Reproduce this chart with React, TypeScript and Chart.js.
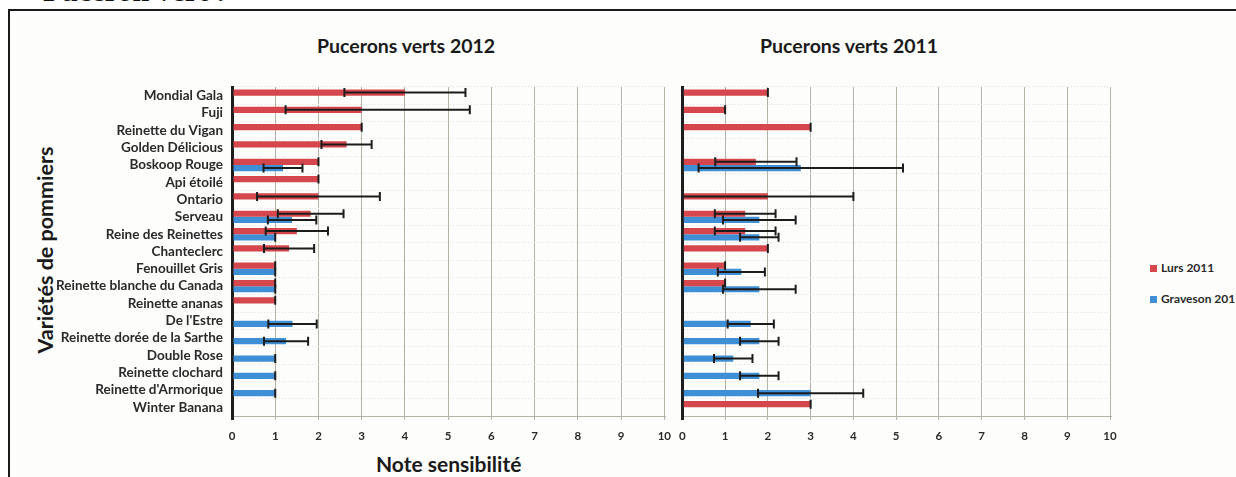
import React, { useEffect, useRef } from 'react';
import { Chart, registerables } from 'chart.js';

Chart.register(...registerables);

const varieties = [
  'Mondial Gala',
  'Fuji',
  'Reinette du Vigan',
  'Golden Délicious',
  'Boskoop Rouge',
  'Api étoilé',
  'Ontario',
  'Serveau',
  'Reine des Reinettes',
  'Chanteclerc',
  'Fenouillet Gris',
  'Reinette blanche du Canada',
  'Reinette ananas',
  "De l'Estre",
  'Reinette dorée de la Sarthe',
  'Double Rose',
  'Reinette clochard',
  "Reinette d'Armorique",
  'Winter Banana',
];

const xTickLabels = ['0', '1', '2', '3', '4', '5', '6', '7', '8', '9', '10'];

const seriesNames = ['Lurs 2011', 'Graveson 2011'];

// Pucerons verts 2012
const lurs2012 = [4, 3, 3, 2.65, 2, 2, 2, 1.82, 1.5, 1.32, 1, 1, 1, null, null, null, null, null, null];
const lurs2012ErrMinus = [1.4, 1.76, 0, 0.58, 0, 0, 1.42, 0.76, 0.72, 0.58, 0, 0, 0, 0, 0, 0, 0, 0, 0];
const lurs2012ErrPlus = [1.4, 2.5, 0, 0.58, 0, 0, 1.42, 0.76, 0.72, 0.58, 0, 0, 0, 0, 0, 0, 0, 0, 0];
const graveson2012 = [null, null, null, null, 1.18, null, null, 1.39, 1.0, null, 1, 1, null, 1.4, 1.25, 1, 1, 1, null];
const graveson2012Err = [0, 0, 0, 0, 0.45, 0, 0, 0.56, 0, 0, 0, 0, 0, 0.56, 0.51, 0, 0, 0, 0];

// Pucerons verts 2011
const lurs2011 = [2, 1, 3, null, 1.72, null, 2, 1.47, 1.47, 2, 1, 1, null, null, null, null, null, null, 3];
const lurs2011Err = [0, 0, 0, 0, 0.95, 0, 2, 0.71, 0.71, 0, 0, 0, 0, 0, 0, 0, 0, 0, 0];
const graveson2011 = [null, null, null, null, 2.77, null, null, 1.8, 1.8, null, 1.38, 1.8, null, 1.6, 1.8, 1.19, 1.8, 3, null];
const graveson2011Err = [0, 0, 0, 0, 2.39, 0, 0, 0.85, 0.45, 0, 0.55, 0.85, 0, 0.54, 0.45, 0.45, 0.45, 1.23, 0];

const RED = '#d6474d';
const BLUE = '#3f8fd6';
const FONT = 'Lato, "Open Sans", sans-serif';

const errorBarPlugin = {
  id: 'errorBars',
  afterDatasetsDraw(chart: any) {
    const ctx = chart.ctx;
    const xScale = chart.scales.x;
    ctx.save();
    ctx.strokeStyle = '#1c1c1c';
    ctx.lineWidth = 2;
    chart.data.datasets.forEach((ds: any, di: number) => {
      const meta = chart.getDatasetMeta(di);
      meta.data.forEach((bar: any, i: number) => {
        const v = ds.data[i];
        if (v == null) return;
        const lo = Math.max(0, v - (ds.errMinus ? ds.errMinus[i] : 0));
        const hi = v + (ds.errPlus ? ds.errPlus[i] : 0);
        const y = bar.y;
        const x1 = xScale.getPixelForValue(lo);
        const x2 = xScale.getPixelForValue(hi);
        const cap = 4.5;
        ctx.beginPath();
        ctx.moveTo(x1, y);
        ctx.lineTo(x2, y);
        ctx.moveTo(x1, y - cap);
        ctx.lineTo(x1, y + cap);
        ctx.moveTo(x2, y - cap);
        ctx.lineTo(x2, y + cap);
        ctx.stroke();
      });
    });
    ctx.restore();
  },
};

function makeConfig(datasets: any[], yWidth: number, showLabels: boolean, padRight: number): any {
  return {
    type: 'bar',
    data: { labels: varieties, datasets },
    plugins: [errorBarPlugin],
    options: {
      indexAxis: 'y',
      animation: false,
      responsive: false,
      layout: { padding: { left: 0, right: padRight, top: 7, bottom: 0 } },
      plugins: { legend: { display: false }, tooltip: { enabled: false }, title: { display: false } },
      datasets: { bar: { categoryPercentage: 0.72, barPercentage: 1 } },
      scales: {
        x: {
          min: 0,
          max: 10,
          afterFit: (s: any) => {
            s.height = 26;
          },
          ticks: {
            stepSize: 1,
            padding: 9,
            color: '#2a2a2a',
            font: { family: FONT, size: 11.5, weight: 'bold' },
            callback: (v: any) => xTickLabels[v] ?? '',
          },
          grid: {
            color: (c: any) => (c.tick && c.tick.value === 0 ? '#1e1e1e' : '#b4b3a6'),
            lineWidth: (c: any) => (c.tick && c.tick.value === 0 ? 3 : 1),
            tickLength: 4,
          },
          border: { display: true, color: '#b4b3a6', width: 1 },
        },
        y: {
          afterFit: (s: any) => {
            s.width = yWidth;
            s.paddingTop = 0;
            s.paddingBottom = 0;
          },
          ticks: {
            display: showLabels,
            padding: 9,
            color: '#2a2a2a',
            font: { family: FONT, size: 13.5, weight: 'bold' },
            autoSkip: false,
          },
          grid: { color: '#e2e2da', lineWidth: 1, drawTicks: false },
          border: { display: true, color: '#1e1e1e', width: 3, dash: [1, 2] },
        },
      },
    },
  };
}

function useChart(ref: React.RefObject<HTMLCanvasElement>, cfg: () => any) {
  useEffect(() => {
    if (!ref.current) return;
    const chart = new Chart(ref.current, cfg());
    return () => chart.destroy();
  }, []);
}

export default function App() {
  const leftRef = useRef<HTMLCanvasElement>(null);
  const rightRef = useRef<HTMLCanvasElement>(null);

  useChart(leftRef, () =>
    makeConfig(
      [
        { label: seriesNames[0], data: lurs2012, backgroundColor: RED, errMinus: lurs2012ErrMinus, errPlus: lurs2012ErrPlus },
        { label: seriesNames[1], data: graveson2012, backgroundColor: BLUE, errMinus: graveson2012Err, errPlus: graveson2012Err },
      ],
      212,
      true,
      15
    )
  );
  useChart(rightRef, () =>
    makeConfig(
      [
        { label: seriesNames[0], data: lurs2011, backgroundColor: RED, errMinus: lurs2011Err, errPlus: lurs2011Err },
        { label: seriesNames[1], data: graveson2011, backgroundColor: BLUE, errMinus: graveson2011Err, errPlus: graveson2011Err },
      ],
      8,
      false,
      20
    )
  );

  const abs = (s: React.CSSProperties): React.CSSProperties => ({ position: 'absolute', ...s });

  return (
    <div style={{ position: 'fixed', left: 0, top: 0, width: 1236, height: 477, overflow: 'hidden', background: '#ffffff' }}>
      <div style={abs({ left: 43, top: -24, fontFamily: '"Liberation Serif", serif', fontWeight: 'bold', fontSize: 30, lineHeight: '30px', whiteSpace: 'nowrap', color: '#111' })}>
        Puceron vert :
      </div>
      <div style={abs({ left: 8, top: 9, width: 1400, height: 600, border: '2px solid #1a1a1a', background: '#fdfdfb' })} />
      <div style={abs({ left: 317, top: 34, fontFamily: FONT, fontWeight: 'bold', fontSize: 19.5, color: '#1a1a1a', whiteSpace: 'nowrap' })}>
        Pucerons verts 2012
      </div>
      <div style={abs({ left: 760, top: 34, fontFamily: FONT, fontWeight: 'bold', fontSize: 19.5, color: '#1a1a1a', whiteSpace: 'nowrap' })}>
        Pucerons verts 2011
      </div>
      <div
        style={abs({
          left: 45,
          top: 250,
          transform: 'translate(-50%, -50%) rotate(-90deg)',
          fontFamily: FONT,
          fontWeight: 'bold',
          fontSize: 21.5,
          color: '#1a1a1a',
          whiteSpace: 'nowrap',
        })}
      >
        Variétés de pommiers
      </div>
      <div style={abs({ left: 376, top: 451, fontFamily: FONT, fontWeight: 'bold', fontSize: 21, color: '#1a1a1a', whiteSpace: 'nowrap' })}>
        Note sensibilité
      </div>
      <div style={abs({ left: 1150, top: 260, fontFamily: FONT, fontWeight: 'bold', fontSize: 12, color: '#2a2a2a', whiteSpace: 'nowrap', lineHeight: '16px' })}>
        <div style={{ display: 'flex', alignItems: 'center' }}>
          <span style={{ display: 'inline-block', width: 7, height: 7, background: RED, marginRight: 4 }} />
          {seriesNames[0]}
        </div>
        <div style={{ display: 'flex', alignItems: 'center', marginTop: 15 }}>
          <span style={{ display: 'inline-block', width: 7, height: 7, background: BLUE, marginRight: 4 }} />
          {seriesNames[1]}
        </div>
      </div>
      <canvas ref={leftRef} width={660} height={362} style={abs({ left: 20, top: 80, width: 660, height: 362 })} />
      <canvas ref={rightRef} width={460} height={362} style={abs({ left: 670, top: 80, width: 460, height: 362 })} />
    </div>
  );
}
